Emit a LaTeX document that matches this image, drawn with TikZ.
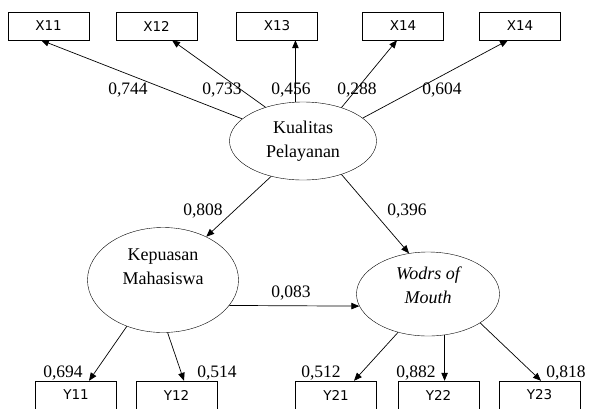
\documentclass[tikz,border=0pt]{standalone}
\usepackage{fontspec}
\setmainfont{Liberation Serif}
\setsansfont{DejaVu Sans}
\usetikzlibrary{shapes.geometric, arrows.meta}

\begin{document}
\begin{tikzpicture}[
    x=1pt, y=-1pt,
    indikator/.style={draw, rectangle, minimum width=81pt, minimum height=28pt, inner sep=0pt, font=\sffamily\fontsize{13.5}{16}\selectfont},
    konstruk/.style={draw, ellipse, inner sep=0pt, align=center, font=\fontsize{18}{24}\selectfont},
    koef/.style={inner sep=0pt, font=\fontsize{17.5}{20}\selectfont},
    panah/.style={-{Triangle[length=8pt, width=6.5pt]}, line width=0.7pt}
]
    \useasboundingbox (0,0) rectangle (589,408);
    % Latent constructs
    \node[konstruk, minimum width=147pt, minimum height=78pt] (kp) at (303,141) {Kualitas\\Pelayanan};
    \node[konstruk, minimum width=151pt, minimum height=105pt, text depth=26pt] (km) at (163,280) {Kepuasan\\Mahasiswa};
    \node[konstruk, minimum width=143pt, minimum height=84pt, text depth=18pt, font=\fontsize{18}{24}\selectfont\itshape] (wom) at (428,294) {Wodrs of\\Mouth};
    % Indicators of Kualitas Pelayanan
    \node[indikator] (x11) at (48.5,26) {X11};
    \node[indikator] (x12) at (156.5,26) {X12};
    \node[indikator] (x13) at (277,26) {X13};
    \node[indikator] (x14a) at (403,26) {X14};
    \node[indikator] (x14b) at (520,26) {X14};
    % Indicators of Kepuasan Mahasiswa and Wodrs of Mouth
    \node[indikator] (y11) at (76,395) {Y11};
    \node[indikator] (y12) at (176.5,395) {Y12};
    \node[indikator] (y21) at (336,395) {Y21};
    \node[indikator] (y22) at (438.5,395) {Y22};
    \node[indikator] (y23) at (539.5,395) {Y23};
    % Outer loadings (top)
    \draw[panah] (kp.160) -- ([xshift=-7.5pt]x11.south);
    \draw[panah] (kp.138) -- ([xshift=15.5pt]x12.south);
    \draw[panah] (kp.101.6) -- (kp.101.6 |- x13.south);
    \draw[panah] (kp.41.5) -- ([xshift=-6pt]x14a.south);
    \draw[panah] (kp.21) -- ([xshift=-12pt]x14b.south);
    % Structural paths
    \draw[panah] (kp.-132) -- (km.45);
    \draw[panah] (kp.-41) -- (wom.115);
    \draw[panah] (km.-21.6) -- (wom.190);
    % Outer loadings (bottom)
    \draw[panah] (km.-128) -- ([xshift=13pt]y11.north);
    \draw[panah] (km.-85) -- ([xshift=7.5pt]y12.north);
    \draw[panah] (wom.-128.5) -- ([xshift=18pt]y21.north);
    \draw[panah] (wom.-68.6) -- (wom.-68.6 |- y22.north);
    \draw[panah] (wom.-29) -- ([xshift=1.5pt]y23.north);
    % Coefficients
    \node[koef] (kx11) at (128,90) {0,744};
    \node[koef] (kx12) at (222,90) {0,733};
    \node[koef] (kx13) at (291,90) {0,456};
    \node[koef] (kx14a) at (357,90) {0,288};
    \node[koef] (kx14b) at (442,90) {0,604};
    \node[koef] (kkm) at (203,211) {0,808};
    \node[koef] (kwom) at (407,211) {0,396};
    \node[koef] (kkmwom) at (291,293) {0,083};
    \node[koef] (ky11) at (63,373) {0,694};
    \node[koef] (ky12) at (217,373) {0,514};
    \node[koef] (ky21) at (321,373) {0,512};
    \node[koef] (ky22) at (416,373) {0,882};
    \node[koef] (ky23) at (566,373) {0,818};
\end{tikzpicture}
\end{document}
